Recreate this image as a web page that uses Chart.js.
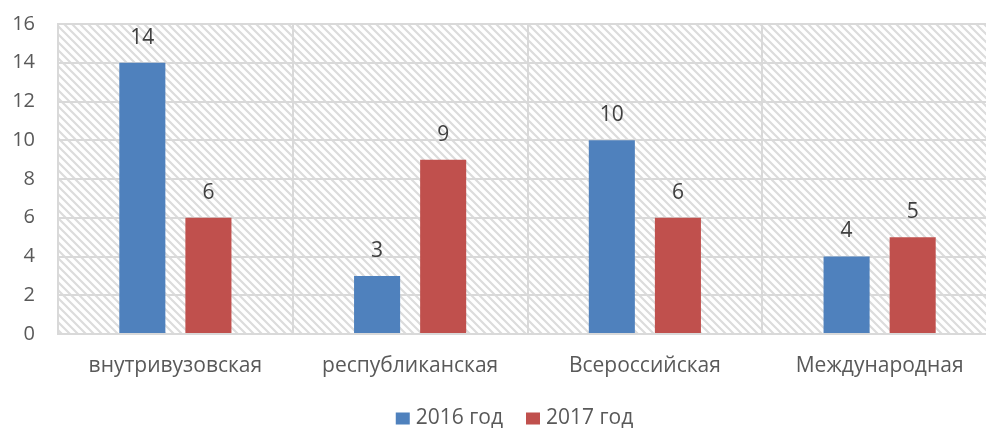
<!DOCTYPE html>
<html><head><meta charset="utf-8">
<script src="https://cdn.jsdelivr.net/npm/chart.js@4/dist/chart.umd.min.js"></script>
<style>html,body{margin:0;padding:0;overflow:hidden;background:#fff;width:986px;height:428px}#wrap{position:absolute;left:0;top:0;width:1000px;height:428px}</style>
</head><body><div id="wrap"><canvas id="c" width="1000" height="428"></canvas></div>
<script>
const categories = ["внутривузовская", "республиканская", "Всероссийская", "Международная"];
const series2016 = [14, 3, 10, 4];
const series2017 = [6, 9, 6, 5];
const seriesNames = ["2016 год", "2017 год"];
const yTicks = [0, 2, 4, 6, 8, 10, 12, 14, 16];

const FONT = "'Open Sans', sans-serif";

function makePattern(ctx){
  const p = document.createElement('canvas');
  p.width = 8; p.height = 8;
  const g = p.getContext('2d');
  g.strokeStyle = '#dcdcdc';
  g.lineWidth = 2.2;
  g.beginPath();
  g.moveTo(-2,-2); g.lineTo(10,10);
  g.moveTo(-10,-2); g.lineTo(2,10);
  g.moveTo(6,-2); g.lineTo(18,10);
  g.stroke();
  return ctx.createPattern(p,'repeat');
}

const bgPlugin = {
  id:'bg',
  beforeDraw(chart){
    const {ctx, chartArea:a} = chart;
    ctx.save();
    ctx.fillStyle = makePattern(ctx);
    ctx.fillRect(a.left, a.top, a.right-a.left, a.bottom-a.top);
    ctx.restore();
  }
};
const labelPlugin = {
  id:'vals',
  afterDatasetsDraw(chart){
    const ctx = chart.ctx;
    ctx.save();
    ctx.font = "21px " + FONT;
    ctx.fillStyle = '#404040';
    ctx.textAlign = 'center';
    ctx.textBaseline = 'middle';
    chart.data.datasets.forEach((ds,i)=>{
      chart.getDatasetMeta(i).data.forEach((bar,j)=>{
        ctx.fillText(String(ds.data[j]), bar.x, bar.y - 25);
      });
    });
    ctx.restore();
  }
};
const legendPlugin = {
  id:'customLegend',
  afterDraw(chart){
    const ctx = chart.ctx;
    ctx.save();
    ctx.font = "21px " + FONT;
    ctx.textBaseline = 'middle';
    ctx.textAlign = 'left';
    const box = 14, gapText = 6, gapItem = 23, cy = 418.5, cx = 514.5;
    const items = chart.data.datasets.map(d=>({t:d.label,c:d.backgroundColor,w:ctx.measureText(d.label).width}));
    let total = 0;
    items.forEach((it,i)=>{ total += box + gapText + it.w + (i<items.length-1?gapItem:0); });
    let x = cx - total/2;
    items.forEach(it=>{
      ctx.fillStyle = it.c;
      ctx.fillRect(x, cy - 6, box, 12);
      ctx.fillStyle = '#595959';
      ctx.fillText(it.t, x + box + gapText, cy);
      x += box + gapText + it.w + gapItem;
    });
    ctx.restore();
  }
};

new Chart(document.getElementById('c'), {
  type:'bar',
  data:{
    labels: categories,
    datasets:[
      {label: seriesNames[0], data: series2016, backgroundColor:'#4f81bd', borderWidth:0},
      {label: seriesNames[1], data: series2017, backgroundColor:'#c0504d', borderWidth:0}
    ]
  },
  options:{
    responsive:false,
    animation:false,
    categoryPercentage:0.563,
    barPercentage:0.697,
    layout:{padding:{top:24,right:3,left:0,bottom:0}},
    plugins:{
      legend:{display:false},
      tooltip:{enabled:false}
    },
    scales:{
      x:{
        grid:{color:'#d9d9d9',lineWidth:2,drawTicks:false,offset:true},
        border:{color:'#d9d9d9',width:2},
        ticks:{font:{size:21,family:FONT},color:'#595959',padding:19},
        afterFit(axis){ axis.height = 94; }
      },
      y:{
        min:0,max:16,
        afterBuildTicks(axis){ axis.ticks = yTicks.map(v=>({value:v})); },
        grid:{color:'#d9d9d9',lineWidth:2,drawTicks:false},
        border:{color:'#d9d9d9',width:2},
        ticks:{font:{size:20,family:FONT},color:'#595959',padding:23},
        afterFit(axis){ axis.width = 58; axis.paddingTop = 0; axis.paddingBottom = 0; }
      }
    }
  },
  plugins:[bgPlugin,labelPlugin,legendPlugin]
});
</script></body></html>
